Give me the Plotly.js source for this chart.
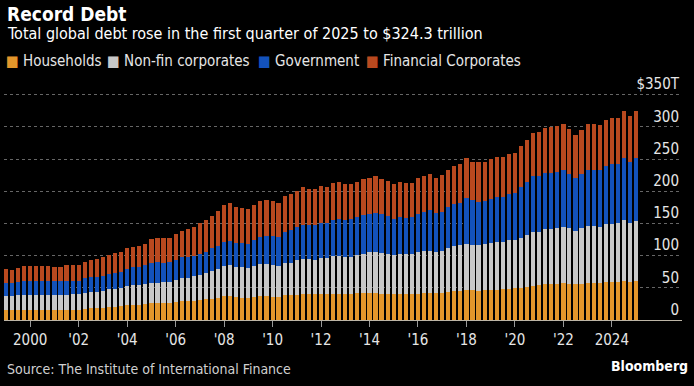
<!DOCTYPE html>
<html>
<head>
<meta charset="utf-8">
<script src="https://cdn.plot.ly/plotly-3.0.1.min.js"></script>
<style>
html,body{margin:0;padding:0;background:#000;}
#chart{width:694px;height:386px;}
</style>
</head>
<body>
<div id="chart"></div>
<script>
// ---- Data (trillions of USD), quarterly 1999 Q1 .. 2025 Q1 ----
const startYear = 1999;
const quarterCount = 105;

const seriesNames = ["Households", "Non-fin corporates", "Government", "Financial Corporates"];
const seriesColors = ["#e3962b", "#c8c8c8", "#1352bb", "#b9491f"];

const households = [
15.6,15.6,15.6,15.6,15.6,15.6,15.6,15.6,15.0,15.0,
15.6,16.1,16.1,17.1,18.1,18.1,18.7,19.7,20.7,21.3,
23.3,23.8,23.8,24.9,25.9,25.9,26.4,27.0,28.0,29.5,
29.5,30.1,31.1,32.1,33.2,34.7,36.8,36.8,35.8,34.7,
34.2,35.3,36.8,36.8,36.3,36.3,38.4,38.4,39.4,40.4,
40.4,39.9,40.4,40.4,41.0,41.0,41.0,41.0,41.5,42.0,
42.5,41.5,41.0,40.4,39.9,40.4,40.4,40.4,41.0,41.5,
42.0,42.0,42.5,43.5,45.1,45.6,46.7,46.1,45.6,46.1,
46.7,46.7,47.7,48.2,49.2,50.3,51.8,53.4,53.9,55.4,
56.0,56.5,57.0,56.5,56.0,56.5,57.5,57.5,57.5,58.6,
59.1,59.6,60.7,59.6,60.1];

const nonFinCorporates = [
21.7,21.7,22.8,23.8,23.8,23.8,23.8,23.8,23.4,23.4,
23.8,24.3,24.3,25.4,25.4,25.4,25.9,28.0,28.0,28.5,
30.1,30.1,30.1,30.6,32.2,32.2,32.7,32.6,34.2,35.3,
36.3,38.8,39.4,41.5,43.5,45.1,47.7,49.3,47.1,47.2,
47.2,48.7,50.3,50.3,49.8,47.7,50.8,50.8,53.4,54.5,
54.5,53.4,55.5,55.5,58.5,59.1,57.5,57.5,59.6,61.2,
62.7,64.3,62.7,62.2,60.7,62.2,61.7,62.2,64.8,65.3,
65.8,63.8,65.3,68.5,70.0,71.6,71.4,70.5,71.0,71.6,
72.5,74.1,73.1,75.7,75.2,77.7,80.4,84.0,83.5,86.1,
85.5,87.1,87.6,86.1,82.9,87.1,88.7,88.7,87.7,90.7,
90.7,90.7,94.3,91.8,93.9];

const government = [
20.8,19.7,20.7,20.7,20.7,20.7,20.7,20.7,21.7,21.7,
21.8,20.8,20.8,22.3,22.9,23.9,23.8,23.3,24.9,25.4,
26.4,28.0,29.0,29.5,31.1,32.1,30.1,30.6,31.1,32.7,
31.7,31.2,31.6,32.7,35.8,35.8,36.8,37.3,36.3,37.3,
36.8,40.4,42.5,43.5,44.5,45.6,48.2,50.8,51.3,52.8,
53.4,53.9,54.4,54.4,56.0,57.5,57.0,58.1,59.6,59.6,
59.7,61.1,60.6,59.1,57.0,57.1,57.1,57.1,59.6,61.2,
63.3,60.1,60.7,63.2,64.8,65.3,71.1,70.0,67.4,67.4,
69.0,70.0,71.0,71.5,72.6,79.4,81.9,86.6,86.6,86.6,
87.6,87.1,88.2,83.9,81.4,83.5,87.1,87.1,87.6,90.2,
92.3,92.3,96.4,94.8,97.4];

const financialCorporates = [
20.7,20.8,21.8,23.4,23.4,23.9,23.4,23.9,22.8,22.3,
23.8,24.3,24.3,25.4,26.4,28.0,30.1,29.6,30.1,30.6,
32.2,32.1,32.2,33.2,36.3,36.8,37.8,37.8,39.9,40.4,
43.5,45.1,48.2,49.2,49.8,53.4,58.1,58.0,56.0,54.5,
54.4,55.0,55.5,56.0,54.0,51.8,56.0,55.4,57.0,58.6,
55.4,56.0,58.6,56.0,57.0,57.5,56.0,54.9,54.4,56.0,
55.4,57.1,55.0,55.0,53.9,55.4,54.4,53.9,54.9,56.0,
56.0,54.9,57.0,57.6,59.6,60.1,62.2,59.6,61.2,60.1,
61.7,62.2,61.2,62.2,62.2,63.2,65.8,67.3,67.9,71.0,
71.1,71.0,71.5,70.0,66.4,68.4,71.0,71.0,70.5,71.5,
71.5,71.0,73.6,71.1,73.6];

const xTickYears = [2000,2002,2004,2006,2008,2010,2012,2014,2016,2018,2020,2022,2024];
const xTickLabels = ["2000","'02","'04","'06","'08","'10","'12","'14","'16","'18","'20","'22","2024"];
const yTickValues = [0,50,100,150,200,250,300,350];
const yTickLabels = ["0","50","100","150","200","250","300","$350T"];

// quarter dates (category positions)
const quarterDates = [];
for (let i = 0; i < quarterCount; i++) {
  const y = startYear + Math.floor(i / 4);
  const m = (i % 4) * 3 + 1;
  quarterDates.push(y + "-" + String(m).padStart(2, "0") + "-01");
}

const allSeries = [households, nonFinCorporates, government, financialCorporates];
const traces = allSeries.map((vals, k) => ({
  type: "bar",
  name: seriesNames[k],
  x: quarterDates,
  y: vals,
  marker: {color: seriesColors[k], line: {width: 0}},
  showlegend: false,
  hoverinfo: "skip"
}));

const FONT = "'Liberation Sans Narrow', 'Arial Narrow', 'DejaVu Sans Condensed', sans-serif";

// layout geometry helpers: y range extends above 350 so the top label fits inside
const W = 694, H = 386;
const yMax = 390;
const basePx = 320, topGridPx = 95;
const plotTop = basePx - (basePx - topGridPx) * yMax / 350;
const M = {l: 4, r: 12, t: plotTop, b: H - basePx};
const pw = W - M.l - M.r, ph = H - M.t - M.b;
const px = p => (p - M.l) / pw;
const py = p => (H - M.b - p) / ph;

const annotations = [
  {text: "<b>Record Debt</b>", x: px(5), y: py(14), font: {size: 19, color: "#ffffff", family: FONT}},
  {text: "Total global debt rose in the first quarter of 2025 to $324.3 trillion", x: px(5), y: py(34), font: {size: 16, color: "#ffffff", family: FONT}},
  {text: "Source: The Institute of International Finance", x: px(5), y: py(369), font: {size: 14, color: "#d0d0d0", family: FONT}},
  {text: "<b>Bloomberg</b>", x: px(690), y: py(366), xanchor: "right", font: {size: 14, color: "#ffffff", family: FONT}}
];
// legend entries
const legendX = [4, 105, 256, 364];
seriesNames.forEach((n, k) => {
  annotations.push({
    text: '<span style="color:' + seriesColors[k] + '">■</span> ' + n,
    x: px(legendX[k]), y: py(61),
    font: {size: 15, color: "#e6e6e6", family: FONT}
  });
});
annotations.forEach(a => {
  a.xref = "paper"; a.yref = "paper"; a.showarrow = false;
  if (!a.xanchor) a.xanchor = "left";
  a.yanchor = "middle";
});

const layout = {
  width: W, height: H,
  paper_bgcolor: "#000", plot_bgcolor: "#000",
  margin: M,
  barmode: "stack",
  bargap: 0.3,
  hovermode: false,
  font: {family: FONT, color: "#e6e6e6"},
  xaxis: {
    type: "date",
    range: ["1998-12-02", "2026-11-23"],
    tickvals: xTickYears.map(y => y + "-01-01"),
    ticktext: xTickLabels,
    ticks: "outside", ticklen: 6, tickcolor: "#9a9a9a", tickwidth: 1,
    showgrid: false, zeroline: false,
    showline: true, linecolor: "#bdb5a6", linewidth: 1,
    tickfont: {size: 15, color: "#e6e6e6", family: FONT},
    fixedrange: true
  },
  yaxis: {
    range: [0, yMax],
    side: "right",
    ticklabelposition: "inside top",
    tickvals: yTickValues,
    ticktext: yTickLabels,
    ticks: "",
    showgrid: true, gridcolor: "#666", griddash: "dot", gridwidth: 1,
    zeroline: false, showline: false,
    tickfont: {size: 15, color: "#e6e6e6", family: FONT},
    fixedrange: true
  },
  annotations: annotations
};

Plotly.newPlot("chart", traces, layout, {staticPlot: true, displayModeBar: false});
</script>
</body>
</html>
